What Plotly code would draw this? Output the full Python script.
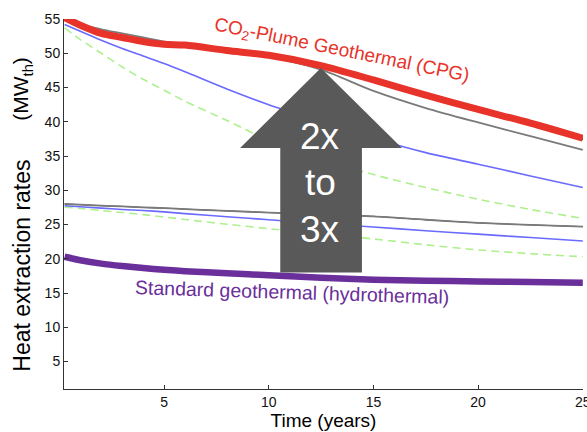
import plotly.graph_objects as go

# ---------------- data ----------------
time_years = [0.25, 1, 2, 3, 4, 5, 6, 8, 10, 12.5, 15, 17.5, 20, 22.5, 25]

cpg_red = [55.2, 54.1, 52.9, 52.3, 51.7, 51.3, 51.2, 50.4, 49.7, 48.2, 46.1, 43.9, 41.8, 39.8, 37.6]
upper_black = [55.0, 54.0, 53.2, 52.6, 52.0, 51.5, 51.1, 50.3, 49.5, 48.0, 45.9, 43.7, 41.6, 39.6, 37.4]
upper_gray = [55.0, 54.2, 53.5, 52.9, 52.3, 51.7, 51.3, 50.5, 49.5, 47.6, 44.5, 42.0, 39.9, 37.9, 35.9]
upper_blue = [54.2, 53.2, 51.9, 50.7, 49.6, 48.5, 47.3, 44.8, 42.5, 40.0, 37.6, 35.5, 33.8, 32.1, 30.4]
upper_green = [53.7, 52.0, 50.0, 48.0, 46.2, 44.6, 43.0, 40.2, 37.3, 34.6, 32.3, 30.4, 28.7, 27.2, 25.9]

lower_gray = [28.0, 27.9, 27.75, 27.65, 27.5, 27.4, 27.25, 27.0, 26.75, 26.5, 26.2, 25.7, 25.25, 24.95, 24.7]
lower_blue = [27.75, 27.6, 27.4, 27.2, 27.05, 26.85, 26.6, 26.15, 25.7, 25.15, 24.65, 24.1, 23.6, 23.1, 22.6]
lower_green = [27.55, 27.35, 27.05, 26.75, 26.45, 26.1, 25.75, 25.05, 24.4, 23.6, 22.9, 22.05, 21.3, 20.75, 20.3]
standard_purple = [20.3, 19.8, 19.3, 18.95, 18.65, 18.4, 18.2, 17.9, 17.6, 17.25, 16.95, 16.8, 16.7, 16.6, 16.5]

x_ticks = [5, 10, 15, 20, 25]
y_ticks = [5, 10, 15, 20, 25, 30, 35, 40, 45, 50, 55]

FONT = "Liberation Sans, Arial, Helvetica, sans-serif"
RED = "#e8332a"
PURPLE = "#6a2f9a"
GRAY = "#7a7a7a"
BLUE = "#6a6aff"
GREEN = "#aef08e"
ARROW = "#595959"

fig = go.Figure()

def add_line(y, color, width, dash="solid", clip=True):
    fig.add_trace(go.Scatter(
        x=time_years, y=y, mode="lines",
        line=dict(color=color, width=width, dash=dash, shape="spline", smoothing=0.8),
        cliponaxis=clip, hoverinfo="skip", showlegend=False))

add_line(lower_green, GREEN, 1.6, "8px,5px")
add_line(lower_blue, BLUE, 1.6)
add_line(lower_gray, "#222222", 1.0)
add_line(lower_gray, GRAY, 1.8)
add_line(upper_green, GREEN, 1.6, "8px,5px")
add_line(upper_blue, BLUE, 1.6)
add_line(upper_gray, GRAY, 1.8)
add_line(upper_black, "#111111", 1.6)
add_line(cpg_red, RED, 7, clip=False)
add_line(standard_purple, PURPLE, 6.5, clip=False)

# arrow (decoration), in data coordinates
tip = (12.49, 47.85)
head_l, head_r, head_y = 8.63, 16.36, 36.16
shaft_l, shaft_r, shaft_b = 10.55, 14.45, 18.0
path = (f"M {tip[0]},{tip[1]} L {head_r},{head_y} L {shaft_r},{head_y} L {shaft_r},{shaft_b} "
        f"L {shaft_l},{shaft_b} L {shaft_l},{head_y} L {head_l},{head_y} Z")
fig.add_shape(type="path", path=path, xref="x", yref="y",
              fillcolor=ARROW, line=dict(width=0), layer="above")

for txt, yy in [("2x", 37.87), ("to", 31.12), ("3x", 24.25)]:
    fig.add_annotation(x=12.46, y=yy, xref="x", yref="y", text=txt, showarrow=False,
                       font=dict(family=FONT, size=37, color="white"),
                       xanchor="center", yanchor="middle")

fig.add_annotation(x=13.5, y=50.4, xref="x", yref="y",
                   text="CO<sub>2</sub>-Plume Geothermal (CPG)", showarrow=False,
                   textangle=11.5, font=dict(family=FONT, size=19, color=RED),
                   xanchor="center", yanchor="middle")
fig.add_annotation(x=11.12, y=15.2, xref="x", yref="y",
                   text="Standard geothermal (hydrothermal)", showarrow=False,
                   textangle=1.8, font=dict(family=FONT, size=19.5, color=PURPLE),
                   xanchor="center", yanchor="middle")

# y-axis title in two parts
fig.add_annotation(x=0, xref="paper", xshift=-42, y=(389.3 - 266) / 370, yref="paper",
                   text="Heat extraction rates", showarrow=False, textangle=-90,
                   font=dict(family=FONT, size=23, color="black"),
                   xanchor="center", yanchor="middle")
fig.add_annotation(x=0, xref="paper", xshift=-42, y=(389.3 - 89) / 370, yref="paper",
                   text="(MW<sub>th</sub>)", showarrow=False, textangle=-90,
                   font=dict(family=FONT, size=21, color="black"),
                   xanchor="center", yanchor="middle")

fig.update_layout(
    width=587, height=432,
    margin=dict(l=64, r=4, t=19, b=43, pad=0, autoexpand=False),
    paper_bgcolor="white", plot_bgcolor="white",
    font=dict(family=FONT, color="black"),
    showlegend=False,
    xaxis=dict(range=[0.22, 25.01], tickvals=x_ticks, ticktext=[str(v) for v in x_ticks],
               ticks="inside", ticklen=4, tickcolor="#333", showline=True,
               linecolor="#333", linewidth=1, showgrid=False, zeroline=False,
               ticklabeloverflow="allow", automargin=False,
               tickfont=dict(family=FONT, size=14, color="#111"),
               title=dict(text="Time (years)", font=dict(family=FONT, size=19, color="black"),
                          standoff=2)),
    yaxis=dict(range=[1, 55], tickvals=y_ticks, ticktext=[str(v) for v in y_ticks],
               ticks="inside", ticklen=4, tickcolor="#333", showline=True,
               linecolor="#333", linewidth=1, showgrid=False, zeroline=False,
               ticklabeloverflow="allow", automargin=False,
               tickfont=dict(family=FONT, size=14, color="#111")),
)

fig.write_html("out.html")
